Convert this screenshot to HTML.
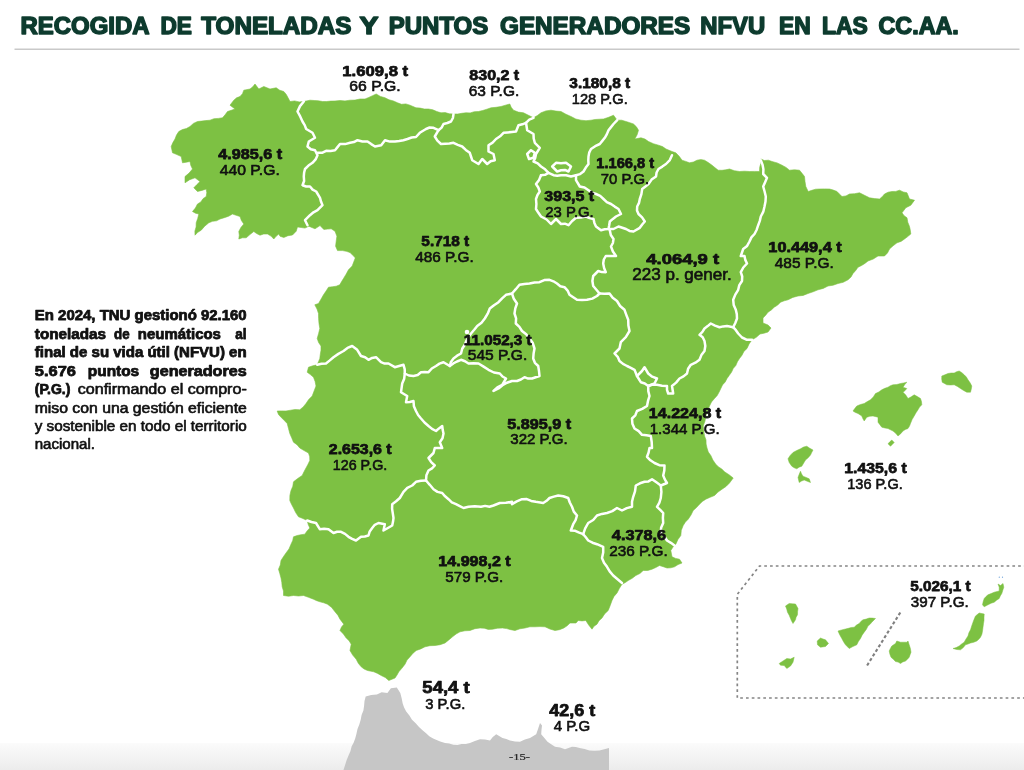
<!DOCTYPE html>
<html lang="es"><head><meta charset="utf-8"><title>Recogida de toneladas y puntos generadores NFVU en las CC.AA.</title>
<style>
html,body{margin:0;padding:0;background:#fff;}
body{width:1024px;height:770px;overflow:hidden;position:relative;font-family:"Liberation Sans",sans-serif;}
svg{position:absolute;left:0;top:0;display:block;}
text{font-family:"Liberation Sans",sans-serif;fill:#111;stroke:#111;stroke-width:0.6px;stroke-linejoin:round;}
.b{font-weight:bold;stroke-width:0.75px;}
.ttl text{font-weight:bold;fill:#0d3b2e;stroke:#0d3b2e;stroke-width:1.5px;}
.pg{font-family:"Liberation Serif",serif;fill:#222;stroke:#222;stroke-width:0.2px;}
</style></head><body>
<svg width="1024" height="770" viewBox="0 0 1024 770">
<defs><linearGradient id="ft" x1="0" y1="0" x2="0" y2="1"><stop offset="0" stop-color="#fbfbfb"/><stop offset="1" stop-color="#ececec"/></linearGradient></defs>
<rect x="0" y="0" width="1024" height="770" fill="#fff"/>
<rect x="0" y="743" width="1024" height="27" fill="url(#ft)"/>
<path d="M343.5,770 L345.1,764.9 L346.7,759.9 L348.75,755 L350.5,751 L351.6,746.6 L353.6,742.7 L355.2,738.6 L356.4,733.9 L357.5,729.1 L359.3,724.5 L360.7,719.8 L361.6,715 L363.4,710.5 L364.1,705.8 L364.5,701 L365.7,696.4 L371.2,695.1 L376.9,694.6 L381.6,692.3 L387.4,692.9 L390.9,688.2 L396.8,687.6 L400.3,692.9 L401.6,698.1 L402.7,703.4 L404.1,707.6 L406.2,711.6 L409.4,715.5 L412,719.8 L415.7,723.2 L419,726.9 L422.5,730.2 L426.1,733.3 L429.3,736.3 L433.1,738.6 L436.6,740.1 L440.2,741.5 L445,743 L449.2,743.6 L453.3,744.8 L457.5,745 L461.6,743.9 L465.9,744 L470,743 L474.9,740.9 L480,739.2 L485,739.5 L490,740.5 L492.8,737.1 L496.2,734.2 L502.5,738 L506.3,739.1 L510,740.5 L515,741.5 L520,741.8 L524.9,739.6 L530,738 L536.2,734.2 L538.2,728.6 L540,723 L542,725.5 L541.5,729.8 L541.2,734.2 L544.4,737.9 L547.5,741.8 L551.2,744.3 L555,746.8 L560.1,747.6 L565,749.2 L572,746.8 L575.8,747 L579.5,748 L584.6,749 L589.5,750.5 L594.5,750.7 L599.5,750.5 L609,748 L609,770Z" fill="#c6c6c6"/>
<path d="M303.8,101.5 L310,100.2 L314.2,100.5 L318.4,100.8 L322.5,101.5 L326.7,101.5 L330.8,101.1 L335,101 L340,100.5 L345,100.9 L350,100.2 L355,100.1 L360,99 L365,99 L368.8,97.4 L372.5,95.7 L376.2,94 L380.4,96.4 L385,97.8 L389,99.8 L393.4,100.9 L397.5,102.8 L401.5,104.3 L405.9,103.9 L410,105.2 L416,107.8 L420.2,108.1 L424.3,109 L428.5,109 L432.8,109.8 L436.8,111.5 L441,112.8 L445.2,112.6 L449.3,113.8 L453.5,114 L457.7,114 L461.8,113.3 L466,112.8 L470.2,112.9 L474.3,111.7 L478.5,111.5 L482.7,110.5 L486.9,109.2 L491,107.8 L496,107.3 L501,106.5 L505.4,105.2 L509.8,104 L511.2,107.3 L513.5,110.2 L518.3,112.1 L523.5,112.8 L528.5,115.3 L533.5,117.8 L537.4,115.5 L541,112.8 L545.8,110.9 L551,110.2 L556,111.1 L561,111.5 L565.9,114.2 L571,116.5 L575.8,119 L581,120.2 L586,120.7 L591,120.2 L595.1,119.5 L599.3,119.2 L603.5,119 L608.6,117.3 L613.5,115.2 L617.2,120.2 L621.7,120.2 L626,121.5 L629.8,122.7 L633.5,124 L636.4,126.8 L638.5,130.2 L637.1,134.8 L634.8,139 L641,137.8 L645,139.1 L648.5,141.5 L653.4,143.7 L658.5,145.2 L662.5,146.6 L666,149 L672,151.5 L675.8,152.8 L679.2,156.3 L682,160.2 L685.8,161.4 L689.5,162.8 L693.4,162 L697,160.2 L700.8,159.6 L704.5,160.2 L708.3,162.6 L712,165.2 L715.1,167.8 L718.2,170.2 L722,170.3 L725.8,169.8 L729.5,169 L734.4,170.7 L739.5,171.5 L744.5,171.2 L749.5,171.5 L754.5,171.4 L759.5,171.5 L759.7,167.3 L760.9,163.2 L760.8,159 L764.4,160.5 L768.4,160.2 L772,161.5 L777.2,162.9 L782,165.2 L786,167.4 L789.5,170.2 L794.5,169.8 L799.5,170.2 L802,173.3 L804.5,176.5 L805,181.5 L805.8,186.5 L808.2,191.5 L811.9,190.3 L815.6,189.2 L819.5,189 L824.5,188.9 L829.5,189 L833.3,190.1 L837,191.5 L839.4,194.1 L842,196.5 L846,195.9 L849.5,194 L854.5,193.7 L859.5,192.8 L864.5,195.3 L869.5,197.8 L874.5,198.6 L879.5,199 L882.2,196.7 L884.5,194 L888.1,192.2 L892,191.5 L895.8,191.4 L899.5,190.2 L903.1,191.9 L907,192.8 L909.5,199 L914.5,200.2 L910.8,205.2 L905.8,207.8 L902,212.8 L904.1,215.7 L907,217.8 L907.8,222.3 L909.5,226.5 L910.3,230.2 L910.8,234 L907.7,236.6 L904.5,239 L901,241.4 L897,242.8 L893.1,245.8 L889.5,249 L887.5,252.9 L884.5,256 L878,256 L873.3,259 L868,261 L864.9,263.4 L861.6,265.5 L858,267.2 L855.7,270.5 L853,273.5 L851,277 L848,279.8 L843.2,282.3 L838,283.5 L833.1,285.2 L828,286 L823.2,288.4 L818,289.8 L813.1,291.8 L808,293.5 L803.2,295.4 L798,296 L792.8,297.4 L788,299.8 L784.2,300.8 L780.5,302.2 L777.7,305.1 L774.2,307.2 L771.3,310 L768,312.2 L765.7,315.2 L763,318 L763,323 L768,325 L771,328 L768,332 L764,333.2 L760,334 L756.3,337.3 L752,339.8 L749.1,343.9 L747,348.5 L743.9,351.4 L742,355.2 L739.5,358.5 L737.4,361.8 L735.8,365.5 L733.2,368.5 L731.6,372.1 L729.3,375.3 L727,378.5 L725.2,382 L722.5,384.9 L720.8,388.5 L719.1,392.1 L717.2,395.5 L714.5,398.5 L711.5,401.9 L709.5,406 L707.6,411 L705.8,416 L705,421.1 L703.2,426 L703.8,431 L704.5,436 L706,439.9 L706.1,444 L707,448 L708.3,452.1 L710.8,455.5 L712.9,460.1 L715.8,464.2 L718.5,466.9 L721.8,469 L724.5,471.8 L729,474.7 L733.2,478 L729.5,483 L726,486.5 L722,489.2 L718,492.1 L714.5,495.5 L710.1,497.3 L705.8,499.2 L702.4,501.4 L699.5,504.2 L696.5,507.5 L693.2,510.5 L691,515 L688.2,519.2 L685.4,522.1 L683.2,525.5 L681.3,530.3 L680.8,535.5 L677.9,539.6 L675.8,544.2 L673,547.1 L670.8,550.5 L672,556.8 L675.6,558.4 L679.5,559.2 L682,563 L678.1,564.6 L674.5,566.8 L670.8,567.8 L667,568 L663.3,566.7 L659.5,565.5 L655.8,567.5 L652,569.2 L647.7,570.5 L643.2,570.5 L639.9,573.5 L635.8,575.5 L632.2,578.3 L628.2,580.5 L625.3,582.6 L622,584.2 L619.3,588.5 L617,593 L614,596.4 L612,600.5 L610.2,605.5 L608.2,610.5 L604.6,613.9 L602,618 L599,620.7 L597,624.2 L594,626.2 L592,629.2 L588.7,625 L585.8,620.5 L582,620.9 L578.2,620.5 L576,623 L570,623 L567.1,625.8 L563.8,628 L559.5,629.7 L555,630.5 L549.9,629 L545,626.8 L540,626.6 L535,626.8 L529.9,626.8 L525,628 L519.9,628.8 L515,630.5 L510.8,629.7 L506.7,628.6 L502.5,628 L497.5,628.2 L492.5,629.2 L488.3,629.4 L484.2,628.2 L480,628 L474.9,628.7 L470,630.5 L464.9,630.8 L460,631.8 L456.1,634 L452.5,636.8 L448.8,639.9 L445,643 L440.1,644.7 L435,645.5 L429.9,645.7 L425,646.8 L420.7,648.9 L416.2,650.5 L412.8,653.4 L410,656.8 L407,660.1 L405,664.2 L402,668.1 L398.8,671.8 L397,675 L395,678 L388.8,680.5 L385.3,677.5 L381.2,675.5 L377.6,673.4 L373.8,671.8 L367.5,670.5 L364.1,669 L361.2,666.8 L358.3,663.3 L356.2,659.2 L352.7,655.1 L350,650.5 L351.2,644.2 L349.1,640.7 L346.2,638 L343.4,634 L340,630.5 L341.5,627.1 L343.8,624.2 L340,619.2 L337.9,615.2 L335,611.8 L331.7,607.5 L327.5,604.2 L323.8,602.8 L320,601.8 L316.7,600.7 L313.5,599.2 L308.5,597.3 L303.5,595.5 L298.5,596 L293.5,595.5 L288.5,596.2 L283.5,595.5 L283.5,591.1 L282.2,586.8 L281.8,582.4 L281,578 L279.8,573.6 L278.5,569.2 L280.3,565 L281,560.5 L283.4,556.7 L286,553 L289,548.9 L291,544.2 L292.7,540.6 L293.5,536.8 L297.2,535.5 L301,534.7 L304.8,534.2 L307.1,530.9 L309.8,528 L308.2,524.4 L307.2,520.5 L302.9,518.5 L298.5,516.8 L295.7,512.6 L293.5,508 L291.5,504.3 L289.8,500.5 L289.9,495.4 L291,490.5 L292.8,486.3 L293.5,481.8 L297.7,478.5 L302.2,475.5 L304,471.7 L306,468 L308,464.3 L309.8,460.5 L309.7,456.7 L308.5,453 L304.1,450.6 L299.8,448 L297,444.7 L293.5,442.2 L291.7,437.8 L289.8,433.5 L288.5,428.5 L287.2,423.5 L284.1,420.3 L281,417.2 L278.5,414.5 L277.2,411 L281.6,410.9 L286,411 L290.6,410.2 L295.1,409.5 L299.8,409.8 L303.2,406.9 L306,403.5 L308.7,399.5 L312.2,396 L314.1,391 L316,386 L315.1,381.5 L313.5,377.2 L310.4,374.6 L307.2,372.2 L308.5,367.2 L312.8,365.8 L317.2,364.8 L318.5,361.7 L319.8,358.5 L320.3,354.3 L321,350.2 L321,346 L318.6,342.5 L317.2,338.5 L318.6,333.5 L319.8,328.5 L319,323.5 L318.6,318.5 L318.5,313.5 L317,309 L314.8,304.8 L318.5,303.5 L321,299.2 L323.5,294.8 L326.1,291 L328.5,287.2 L332.3,286.8 L336.2,286.2 L339.8,284.8 L341.6,281.6 L343.5,278.5 L346.1,274.2 L348.5,269.8 L352.2,266 L354.1,261 L356,256 L356.2,258.8 L353.1,255.6 L350,252.5 L346.3,251.3 L342.5,250.6 L337.5,250.6 L335.6,246.2 L336.2,241.2 L336.9,236.2 L335,231.2 L331.2,228.8 L327.5,229.1 L323.8,229.4 L320,225.6 L315,228.8 L308.8,226.2 L305,228.1 L301.2,227.5 L297.5,226.9 L296.2,231.2 L292.5,235 L288,235.7 L283.8,237.5 L280,236.2 L278.8,234 L276.1,236.3 L273.8,239 L271,236.1 L267.5,234 L263.7,234 L260,235.2 L256.7,233.6 L253.8,231.5 L249.9,234.6 L246.2,237.8 L242.4,237.8 L238.8,239 L239.3,235.2 L238.8,231.5 L240.9,227.5 L243.8,224 L241.4,220.5 L240,216.5 L236.2,215.3 L232.5,214 L228.6,216.2 L224.3,217.7 L220,219 L216.5,220.8 L212.5,221.3 L208.8,222.8 L204.7,226.2 L201.2,230.2 L197.8,232.3 L195,235.2 L194.9,231 L196.1,227 L196.2,222.8 L197.7,218.5 L198.8,214 L195.5,213.2 L192.5,211.5 L195.4,208 L197.5,204 L200.8,202 L203,198.7 L206.2,196.5 L206.8,192.8 L206.2,189 L201.9,190.4 L197.5,191.5 L193.8,187.8 L196.9,184.6 L200,181.5 L195,177.8 L189.7,179.7 L185,182.8 L185,176.5 L189.1,173.1 L192.5,169 L190.8,165.4 L190,161.5 L186.3,162.2 L182.5,162.8 L181.2,156.5 L176.9,154.6 L172.5,152.8 L171.2,146.5 L172.9,142.6 L175,139 L176.5,135.1 L178.8,131.5 L182.4,129.6 L186.4,128.5 L190,126.5 L193.4,123.4 L197.5,121.5 L201.7,121.1 L205.8,120.6 L210,120.2 L214,118.7 L218.3,118.4 L222.5,117.8 L225.1,114.8 L227.5,111.5 L231.3,110.3 L235,109 L230,105.2 L233.8,100.2 L236.6,97.8 L240,96.5 L242.5,93.7 L243.8,90.2 L250,89 L252.8,86.8 L255,84 L258.8,89 L263.8,86.5 L270,89 L276.2,87.8 L279.7,90.2 L283.8,91.5 L286.3,94.5 L288.2,98 L290,101.5 L294.6,100.9 L299.2,101.9Z" fill="#7dc143" stroke="#7dc143" stroke-width="0.6" stroke-linejoin="round"/>
<path d="M853,411 L854.8,408.4 L856.8,406 L860.4,404.5 L864.2,403.5 L867.3,401.6 L870.5,399.8 L873.3,396.9 L875.5,393.5 L878.8,391.9 L881.8,389.8 L884.8,388.3 L888,387.2 L890.4,385.7 L893,384.8 L896.8,384.5 L900.5,383.5 L903.7,382.9 L906.8,382.2 L904.8,384.6 L903,387.2 L906.8,388.5 L905.1,390.6 L903,392.2 L905.8,395.1 L908,398.5 L911.2,396.8 L914.2,394.8 L917.4,396.6 L920.5,398.5 L921.5,401.6 L921.8,404.8 L919.6,407.1 L918,409.8 L916,412.8 L914.2,416 L912.1,419.6 L910.5,423.5 L909.5,426.1 L908,428.5 L905.4,429.5 L903,431 L900.7,433.7 L898,436 L895.7,433.3 L893,431 L890.5,429.8 L888,428.5 L884.9,428 L881.8,427.2 L879.9,424.7 L878,422.2 L878,417.2 L873,416 L869.8,416.3 L866.8,417.2 L864.2,421 L862.8,418.6 L861.8,416 L858,413.5 L855.4,412.5Z" fill="#7dc143" stroke="#7dc143" stroke-width="0.5" stroke-linejoin="round"/>
<path d="M941.8,376 L944.9,374.8 L948,373.5 L951.1,373 L954.2,373 L956.6,371.7 L959.2,371 L961.9,372.7 L964.2,374.8 L966.4,377.1 L968,379.8 L970.1,382.8 L971.8,386 L971.3,389.1 L970.5,392.2 L966.8,392.2 L963.6,390.5 L960.5,388.5 L957.5,386.5 L954.2,384.8 L950.5,385 L946.8,384.8 L944.5,383.5 L942.2,382.2 L941.7,379.1Z" fill="#7dc143" stroke="#7dc143" stroke-width="0.5" stroke-linejoin="round"/>
<path d="M888,443.8 L889.8,441.8 L891.8,440 L894.2,442.5 L890.5,446.2Z" fill="#7dc143" stroke="#7dc143" stroke-width="0.5" stroke-linejoin="round"/>
<path d="M788,458.8 L790.2,455.4 L793,452.5 L796.7,450.5 L800.5,448.8 L803.5,447.1 L806.8,446.2 L809.8,448.3 L813,450 L811.7,452.5 L810.5,455 L808.2,457.7 L805.5,460 L803.7,463.1 L801.8,466.2 L799.1,467.2 L796.8,468.8 L794.2,467.8 L791.8,466.2 L789.2,462.5Z" fill="#7dc143" stroke="#7dc143" stroke-width="0.5" stroke-linejoin="round"/>
<path d="M800.5,471.2 L801.5,473.8 L803,476.2 L806.1,477.4 L809.2,478.8 L810.5,482.5 L807.3,481.3 L804.2,480 L801.6,481 L799.2,482.5 L798,477.5 L799.2,474.3Z" fill="#7dc143" stroke="#7dc143" stroke-width="0.5" stroke-linejoin="round"/>
<path d="M785.5,606 L789.2,603.5 L792.3,603.8 L795.5,604 L798,608.5 L797.6,611.6 L797.5,614.8 L796.1,617.2 L795.5,619.8 L793,623.5 L791.6,621.1 L790.5,618.5 L789.2,615.2 L787.5,612.2 L786.7,609Z" fill="#7dc143" stroke="#7dc143" stroke-width="0.5" stroke-linejoin="round"/>
<path d="M817.2,641 L820.5,638 L823,639 L825.5,639.8 L828.5,643.5 L825.5,646.5 L820.5,647.2 L817.5,644.8Z" fill="#7dc143" stroke="#7dc143" stroke-width="0.5" stroke-linejoin="round"/>
<path d="M779.2,663.5 L783,661 L786.8,658.5 L790.5,659 L794.2,657.2 L793,662.2 L790.5,666 L786.8,668.5 L784.2,665.5 L780.5,665.2Z" fill="#7dc143" stroke="#7dc143" stroke-width="0.5" stroke-linejoin="round"/>
<path d="M838,631 L841.7,629.9 L845.5,629 L848.4,628.3 L851.2,627.5 L854.2,627.2 L856.5,625.1 L859.2,623.5 L860.9,621.4 L863,619.8 L866.2,619.1 L869.2,618 L872.4,618.1 L875.5,618.5 L871.8,622.2 L870.1,624.3 L868,626 L866.4,629.3 L864.2,632.2 L862.1,635.2 L860.5,638.5 L858.4,641.5 L856.8,644.8 L852.9,646.5 L849.2,648.5 L845.5,644.8 L843.5,641.7 L841.8,638.5 L839.7,634.8Z" fill="#7dc143" stroke="#7dc143" stroke-width="0.5" stroke-linejoin="round"/>
<path d="M889.2,651 L890.4,648.4 L891.8,646 L895.5,643.5 L896.8,641 L900.5,642.2 L903.6,642.2 L906.8,642.2 L908,641 L909.2,644.8 L910.4,648.4 L911,652.2 L910.1,654.7 L909.2,657.2 L907.5,659.2 L905.5,661 L902.8,661.9 L900.5,663.5 L898.1,662.1 L895.5,661.5 L893.3,659.3 L891,657.2 L889.9,654.2Z" fill="#7dc143" stroke="#7dc143" stroke-width="0.5" stroke-linejoin="round"/>
<path d="M953,648.5 L956.2,647.6 L959.2,646 L961.6,644 L964.2,642.2 L966,639 L968,636 L968.9,632.8 L970.5,629.8 L971.7,626 L973,622.2 L974.2,619.1 L975.5,616 L979.2,613 L984.2,614 L984,617.2 L984,620.4 L983.5,623.5 L983,627.2 L982.5,631 L981.9,634.2 L980.5,637.2 L978.8,639.2 L976.8,641 L973.7,642.3 L970.5,643 L968,644 L965.5,644.8 L963.3,647.6 L960.5,649.8 L956.7,649.5Z" fill="#7dc143" stroke="#7dc143" stroke-width="0.5" stroke-linejoin="round"/>
<path d="M982.5,604.8 L983.2,601.6 L984.2,598.5 L986,596.5 L988,594.8 L991.1,593.6 L994.2,592.2 L999.2,591 L999.2,587.2 L998,584 L1000.5,585.5 L1003,583.5 L1003.8,587.2 L1002.8,590.3 L1001.8,593.5 L1000.3,595.9 L999.2,598.5 L996.6,600.2 L994.2,602.2 L991,603.3 L988,604.8 L984.2,606.8Z" fill="#7dc143" stroke="#7dc143" stroke-width="0.5" stroke-linejoin="round"/>
<g fill="none" stroke="#fff" stroke-width="2.5" stroke-linejoin="round" stroke-linecap="round">
<path d="M303.8,101.5 L300,106.1 L297.5,111.5 L300.2,116.4 L302.5,121.5 L304.7,125.1 L306.2,129 L312.5,132.8 L315,137.8 L308.8,141.5 L307.5,146.5 L310.8,149.2 L315,150.2 L317.5,155.2 L315.6,159.4 L312.5,162.8 L308.5,165.6 L305,169 L304.1,172.7 L303.8,176.5 L304.1,181 L302.5,185.2 L306.1,186.5 L310,186.5 L312.6,189.6 L316.2,191.5 L320,197.8 L321,201.6 L322.5,205.2 L317.5,210.2 L313.5,212.3 L310,215.2 L305,220.2 L307.5,225.2"/>
<path d="M317.5,152.8 L322,152.8 L326.1,150.8 L330.6,150.9 L335,150.2 L337.5,147.1 L340,144 L345.1,144.1 L350,142.8 L353.9,142.1 L357.5,140.2 L362.4,141.5 L367.5,141.5 L371.2,144.1 L375,146.5 L381.2,145.2 L385,140.2 L389.9,141.6 L395,141.5 L399.2,141 L403.4,140.2 L407.5,139 L411.6,137.5 L416,137 L419.8,132.8 L426,129 L429.6,127.5 L433.5,127.8 L438.5,130.2"/>
<path d="M453.5,114 L452.9,118 L451,121.5 L447.3,123 L443.5,124 L441.6,127.6 L438.5,130.2"/>
<path d="M438.5,130.2 L434.8,136.5 L437.4,140.7 L441,144 L445.2,143.7 L449.4,143.5 L453.5,142.8 L457.8,144.9 L462.2,146.5 L465.8,149.9 L469.8,152.8 L471,156.5 L472.2,160.2 L478.5,164 L482.2,159 L487.2,164 L490.6,161.2 L494.8,160.2 L493.5,154 L488.5,151.5 L488.5,145.2 L492.6,142.6 L496,139 L500.1,136.3 L503.5,132.8 L507.7,132.4 L511.8,132 L516,131.5 L518.5,125.2 L522.3,124.3 L526,122.8 L529.3,119.6 L533.5,117.8"/>
<path d="M526,122.8 L527.2,130.2 L533.5,134 L533.7,138.5 L534.8,142.8 L539.8,147.8 L536,154 L535.2,157.9 L533.5,161.5 L537.7,163.3 L541,166.5 L545.1,169.3 L548.5,172.8 L553.5,175.2 L557.2,175.7 L561,175.2 L566.1,175.3 L571,176.5 L576,175.2"/>
<path d="M552.2,166.5 L556,162.8 L561,163.3 L566,162.8 L571,166.5 L568.5,171.5 L564.9,169.9 L561,170.2 L557.2,171.5 L552.2,166.5"/>
<path d="M527.2,154 L531,150.2 L534.8,152.8 L533.5,157.8 L529,159 L527.2,154"/>
<path d="M617.2,120.2 L613.5,124 L611,127.1 L608.5,130.2 L606.9,134.1 L604.8,137.8 L602.3,140.9 L599.8,144 L595.2,146.2 L591,149 L589.2,152.6 L588.5,156.5 L588.3,160.2 L588.5,164 L585.8,167.6 L583.5,171.5 L580.1,174.1 L576,175.2"/>
<path d="M541,175.2 L539.1,179.9 L536,184 L538.3,187.5 L539.8,191.5 L537.5,195 L536,199 L536.4,204 L536,209 L538.4,212.8 L541,216.5 L546.6,219.5 L551,224 L556,219 L561,224 L564.9,223.7 L568.5,225.2 L571.9,221.2 L576,217.8 L581,217.5 L586,216.5 L589.6,218.1 L593.5,219 L594.4,222.9 L596,226.5 L601,230.2 L604.7,229.2 L608.5,229 L609.2,225.3 L609.8,221.5 L612.9,218.9 L616,216.5 L621,214 L618.5,209 L614.7,206.6 L611,204 L606.8,202.1 L603.5,199 L600.2,195.8 L596,194 L592,192.6 L588.5,190.2 L584.5,187.5 L579.8,186.5 L576,180.2 L576,175.2"/>
<path d="M541,175.2 L545,174.8 L548.5,172.8"/>
<path d="M672,155.2 L669.8,160.1 L666,164 L662.3,166.6 L658.5,169 L656.6,172.5 L656,176.5 L651.6,179.6 L648.5,184 L645.4,186.6 L642.2,189 L641.4,194.1 L639.8,199 L639,202.9 L637.2,206.5 L637,210.4 L638.5,214 L642.1,217.4 L644.8,221.5 L642.2,224.5 L639.8,227.8 L633.5,231.5 L629.5,230.9 L626,229 L622.3,227.7 L618.5,226.5 L613.5,229 L608.5,229"/>
<path d="M609.8,230.2 L610.8,235 L613.5,239 L612.9,243 L611,246.5 L612.9,251.5 L616,256 L610.9,256 L605.8,256 L603.8,259.5 L603.2,263.5 L604.1,268 L605.8,272.2 L601.9,272.1 L598.2,271 L593.2,276 L592.4,281 L593.2,286 L596.4,289.7 L599.5,293.5"/>
<path d="M760.8,160.2 L762.5,164.6 L763.4,169.2 L763.2,174 L767,177.8 L765.1,182.2 L763.2,186.5 L764.6,191.5 L765.8,196.5 L765.5,201.6 L764.5,206.5 L763.3,211.7 L760.8,216.5 L759.8,220.9 L758.2,225.2 L756.7,229.7 L754.5,234 L751.4,237.4 L749.5,241.5 L747.1,245.9 L743.2,249 L740.8,256 L744.5,256 L745.3,259.9 L747,263.5 L743.3,267.5 L740.8,272.2 L742.2,276.5 L742,281 L739.3,285.1 L738.2,289.8 L735.3,294.6 L733.2,299.8 L733.7,305 L735.8,309.8 L736.8,314.1 L737,318.5 L735.3,323 L733.2,327.2"/>
<path d="M733.2,327.2 L735.9,330.2 L738.2,333.5 L742,337.5 L747,339.8 L752,339.8"/>
<path d="M733.2,327.2 L727,326 L723.2,326.4 L719.5,327.2 L715,325.6 L710.8,323.5 L707.7,326.1 L704.5,328.5 L702.4,331.9 L699.5,334.8 L702.7,337.3 L704.5,341 L705.3,346 L704.5,351 L701.4,355.1 L699.5,359.8 L695.4,362.7 L690.8,364.8 L688.1,368.8 L687,373.5 L683.5,376.4 L679.5,378.5 L676.1,382.6 L672,386 L672.6,389.8 L673.2,393.5 L668.2,393.5 L667,389.8 L667,386 L662,385.7 L657,384.8 L652.5,384.5 L648.2,386"/>
<path d="M637,376 L642,371 L644.5,367.2 L648.2,373.5 L652.2,376.7 L657,378.5 L654.5,383.5 L648.2,386 L644.8,383.5 L640.8,382.2 L637,376"/>
<path d="M599.5,293.5 L604.5,293.8 L609.5,293.5 L612.7,297.8 L617,301 L620.1,306 L624.5,309.8 L626.3,314.8 L628.2,319.8 L628.4,325.5 L629.5,331 L625.8,337.2 L620.8,342.2 L619.5,348.5 L614.5,353.5 L617.7,356.8 L619.5,361 L623,363.9 L627,366 L630.8,367.8 L634.5,369.8 L637,376"/>
<path d="M648.2,386 L648.3,391.1 L649.5,396 L648,400.9 L647,406 L642.2,408.9 L637,411 L635.3,415.3 L632,418.5 L632.4,423.7 L634.5,428.5 L638.7,431.1 L642,434.8 L646.4,435.3 L650.8,436 L651.7,442 L652,448 L649.5,448 L648.6,452.5 L647,456.8 L650.4,460.3 L654.5,463 L659.3,465.2 L664.5,465.5 L664.3,470.6 L663.2,475.5 L664.8,479.4 L667,483 L660.8,485.5"/>
<path d="M317.2,364.8 L321.5,363.8 L326,363.5 L329.8,360.4 L333.5,357.2 L338.4,353.9 L343.5,351 L347.5,347.9 L352.2,346 L357.2,349.8 L361,356 L365.1,357.3 L368.5,359.8 L372.1,357.9 L376,357.2 L381,362.2 L384.6,363.6 L388.5,363.5 L394.8,367.2 L399.1,366 L403.5,364.8 L404.7,369.1 L404.8,373.5 L408.9,375.5 L413.5,376 L417.7,375 L421,372.2 L424.8,372.1 L428.5,372.2 L431.8,368.5 L436,366 L439.5,363.6 L443.5,362.2 L449.8,366 L450.9,361.9 L453.5,358.5 L457.1,355.7 L461,353.5 L462.2,348.8 L464.8,344.8 L466.4,340.8 L468.5,337 L471,333.5 L474.2,329.8 L477.2,326 L481.5,322.8 L484.8,318.5 L487.7,313.7 L489.8,308.5 L494,305.2 L498.5,302.2 L502.1,298.4 L506,294.8 L512,293.5 L515.8,289.2 L519.5,284.8 L524.5,283.9 L529.5,283.5 L534.5,282.5 L539.5,282.2 L544.3,280.1 L549.5,279.8 L553.4,281.3 L557,283.5 L560.3,286.2 L564.5,287.2 L567.6,290.6 L569.5,294.8 L573.2,297.3 L577,299.8 L582,300.1 L587,299.8 L592.3,298.6 L597,296 L599.5,293.5"/>
<path d="M449.8,366 L453.3,363.4 L457,361.5 L461,359.8 L465,361.2 L468.5,363.5 L473.5,363.3 L478.5,363.5 L483.6,366.6 L488.5,369.8 L493.9,372.5 L499.8,373.5 L502.5,376.5 L506,378.5 L502.2,384.8 L497.4,387.3 L493.5,391 L498.5,388.5 L502.5,385.2 L507,382.7 L512,381 L517,381 L520.9,379.5 L524.5,377.2 L528.1,378.6 L532,378.5 L535.7,377.2 L539.5,376 L539,371 L538.2,366 L534.9,362.8 L533.2,358.5 L533.6,353.5 L534.5,348.5 L532.8,343.1 L529.5,338.5 L526.2,334.3 L522,331 L519.4,326.8 L515.8,323.5 L516.1,318.4 L514.5,313.5 L515.3,308.4 L517,303.5 L513.8,298.8 L512,293.5"/>
<path d="M404.8,373.5 L404.2,378.7 L402.2,383.5 L401.6,387.8 L401,392.2 L407.2,396 L406,402.2 L409.8,402 L413.5,401 L413.9,406.2 L416,411 L418.1,415 L421,418.5 L424.5,422.5 L428.5,426 L432,428.9 L436,431 L439,428.4 L442.2,426 L442.7,429.8 L443.5,433.5 L442.5,438.2 L439.8,442.2 L442.2,448 L434.8,448 L433.5,453 L428.5,458 L431.2,462.1 L434.8,465.5 L432,468.4 L428.5,470.5 L426.4,475.3 L426,480.5"/>
<path d="M307.2,520.5 L311.5,522 L316,523 L319.8,529.2 L324.1,528.8 L328.5,529.2 L333.5,533 L337.1,531.7 L341,531.8 L345,533.9 L348.5,536.8 L352.1,538.9 L356,540.5 L361,536.8 L364.8,536.5 L368.5,535.5 L369.7,531.4 L372.2,528 L374.8,524.8 L378.5,523 L384.8,524.2 L383.5,530.5 L387.9,528 L392.2,525.5 L393,521.8 L393.5,518 L392.8,513.4 L392.1,508.9 L392.2,504.2 L396.1,501.3 L399.8,498 L403.5,491.8 L407.3,487.9 L412.2,485.5 L416,481.8 L420.9,480.8 L426,480.5"/>
<path d="M426,480.5 L429.8,484.8 L433.5,489.2 L437.5,491.9 L442.2,493 L445.1,496.3 L448.5,499.2 L451.8,502.3 L456,504.2 L459.8,506.1 L463.5,508 L468.5,506.8 L474.8,506.3 L481,506.8 L485.1,505.9 L489.4,506.8 L493.5,505.5 L499.8,503 L505.9,502.8 L512,501.8 L512,504.2 L516.8,501.4 L522,499.2 L526.8,499.1 L531.2,500.9 L535.8,501.8 L543.2,503 L546.6,500.8 L549.5,498 L553.8,496.6 L558.2,495.5 L563.3,496.3 L568.2,498 L569.8,502.5 L572,506.8 L573.8,511.6 L577,515.5 L575.6,520.1 L573.2,524.2 L570.8,530.5 L575.2,530.8 L579.2,532.7 L583.2,534.2"/>
<path d="M583.2,534.2 L585.8,537.3 L588.2,540.5 L592.5,542.7 L597,544.2 L603.2,546.8 L603.2,552.5 L602,558 L604,562.7 L607,566.8 L609.7,571.4 L613.2,575.5 L617.6,579.3 L622,583"/>
<path d="M583.2,534.2 L585.2,528.4 L588.2,523 L593.2,520 L597,515.5 L601.9,513.9 L607,513 L612.3,511.1 L617,508 L622,510.5 L626.8,508.1 L632,506.8 L632,501.7 L633.2,496.8 L635,491.3 L635.8,485.5 L640,483.3 L644.5,481.8 L648.5,481.4 L652,479.2 L656.4,482.3 L660.8,485.5"/>
<path d="M660.8,485.5 L661.4,491.8 L660.8,498 L659.4,502.6 L657,506.8 L660.2,509.8 L663.2,513 L662.9,518 L663.2,523 L661.1,527.8 L660.8,533 L664.4,536.3 L667,540.5 L670.9,542.8 L674.5,545.5"/>
</g>
<circle cx="467" cy="332" r="2.3" fill="#fff"/>
<circle cx="999.3" cy="577.2" r="0.6" fill="#6aa0d8"/><circle cx="1002.5" cy="577.2" r="0.6" fill="#6aa0d8"/>
<path d="M1026.6,566 L759.5,566 L737.3,594.3 L737.3,698 L1024,698" fill="none" stroke="#858585" stroke-width="1.7" stroke-dasharray="2.7 3.07"/>
<path d="M900.3,612.5 L867,665.6" fill="none" stroke="#808080" stroke-width="2.1" stroke-dasharray="3.1 2.3"/>
<line x1="14.5" y1="49.3" x2="1019.5" y2="49.3" stroke="#c9c9c9" stroke-width="1.5"/>
<g class="ttl" font-size="23.6"><text x="20.5" y="34" textLength="129" lengthAdjust="spacingAndGlyphs">RECOGIDA</text><text x="160.5" y="34" textLength="31.5" lengthAdjust="spacingAndGlyphs">DE</text><text x="201.25" y="34" textLength="150.25" lengthAdjust="spacingAndGlyphs">TONELADAS</text><text x="359.5" y="34" textLength="19" lengthAdjust="spacingAndGlyphs">Y</text><text x="388.75" y="34" textLength="99.5" lengthAdjust="spacingAndGlyphs">PUNTOS</text><text x="500" y="34" textLength="190.25" lengthAdjust="spacingAndGlyphs">GENERADORES</text><text x="700.3" y="34" textLength="65" lengthAdjust="spacingAndGlyphs">NFVU</text><text x="779.1" y="34" textLength="31.7" lengthAdjust="spacingAndGlyphs">EN</text><text x="822.1" y="34" textLength="45.7" lengthAdjust="spacingAndGlyphs">LAS</text><text x="878.5" y="34" textLength="80.3" lengthAdjust="spacingAndGlyphs">CC.AA.</text></g>
<text class="b" x="342.35" y="75.7" font-size="14.6" textLength="65.8" lengthAdjust="spacingAndGlyphs">1.609,8 t</text>
<text x="349.25" y="90.7" font-size="14.6" textLength="51.5" lengthAdjust="spacingAndGlyphs">66 P.G.</text>
<text class="b" x="469.35" y="80.2" font-size="14.6" textLength="49.8" lengthAdjust="spacingAndGlyphs">830,2 t</text>
<text x="468.75" y="96.2" font-size="14.6" textLength="50.5" lengthAdjust="spacingAndGlyphs">63 P.G.</text>
<text class="b" x="569.35" y="88.2" font-size="14.6" textLength="60.8" lengthAdjust="spacingAndGlyphs">3.180,8 t</text>
<text x="571.75" y="103.7" font-size="14.6" textLength="56" lengthAdjust="spacingAndGlyphs">128 P.G.</text>
<text class="b" x="218.35" y="159.45" font-size="14.6" textLength="63.8" lengthAdjust="spacingAndGlyphs">4.985,6 t</text>
<text x="219.75" y="175.45" font-size="14.6" textLength="60" lengthAdjust="spacingAndGlyphs">440 P.G.</text>
<text class="b" x="596.35" y="168.2" font-size="14.6" textLength="57.8" lengthAdjust="spacingAndGlyphs">1.166,8 t</text>
<text x="600.75" y="183.7" font-size="14.6" textLength="48.5" lengthAdjust="spacingAndGlyphs">70 P.G.</text>
<text class="b" x="544.35" y="201.2" font-size="14.6" textLength="49.8" lengthAdjust="spacingAndGlyphs">393,5 t</text>
<text x="545.25" y="216.7" font-size="14.6" textLength="48.5" lengthAdjust="spacingAndGlyphs">23 P.G.</text>
<text class="b" x="421.35" y="245.7" font-size="14.6" textLength="47.8" lengthAdjust="spacingAndGlyphs">5.718 t</text>
<text x="415.25" y="261.7" font-size="14.6" textLength="58.5" lengthAdjust="spacingAndGlyphs">486 P.G.</text>
<text class="b" x="768.35" y="252.45" font-size="14.6" textLength="73.3" lengthAdjust="spacingAndGlyphs">10.449,4 t</text>
<text x="774.75" y="268.2" font-size="14.6" textLength="59" lengthAdjust="spacingAndGlyphs">485 P.G.</text>
<text class="b" x="646.35" y="264.45" font-size="14.6" textLength="72.8" lengthAdjust="spacingAndGlyphs">4.064,9 t</text>
<text x="632.25" y="279.95" font-size="15.6" textLength="99.5" lengthAdjust="spacingAndGlyphs">223 p. gener.</text>
<text class="b" x="463.85" y="344.7" font-size="14.6" textLength="67.8" lengthAdjust="spacingAndGlyphs">11.052,3 t</text>
<text x="467.75" y="360.2" font-size="14.6" textLength="59.5" lengthAdjust="spacingAndGlyphs">545 P.G.</text>
<text class="b" x="507.35" y="429.45" font-size="14.6" textLength="63.8" lengthAdjust="spacingAndGlyphs">5.895,9 t</text>
<text x="510.25" y="444.45" font-size="14.6" textLength="57.5" lengthAdjust="spacingAndGlyphs">322 P.G.</text>
<text class="b" x="648.85" y="418.2" font-size="14.6" textLength="72.3" lengthAdjust="spacingAndGlyphs">14.224,8 t</text>
<text x="649.75" y="434.45" font-size="14.6" textLength="70" lengthAdjust="spacingAndGlyphs">1.344 P.G.</text>
<text class="b" x="328.85" y="453.95" font-size="14.6" textLength="62.8" lengthAdjust="spacingAndGlyphs">2.653,6 t</text>
<text x="332.75" y="470.2" font-size="14.6" textLength="54.5" lengthAdjust="spacingAndGlyphs">126 P.G.</text>
<text class="b" x="844.35" y="472.7" font-size="14.6" textLength="62.3" lengthAdjust="spacingAndGlyphs">1.435,6 t</text>
<text x="847.25" y="488.7" font-size="14.6" textLength="55.5" lengthAdjust="spacingAndGlyphs">136 P.G.</text>
<text class="b" x="611.85" y="539.7" font-size="14.6" textLength="54.3" lengthAdjust="spacingAndGlyphs">4.378,6</text>
<text x="609.25" y="555.7" font-size="14.6" textLength="58.5" lengthAdjust="spacingAndGlyphs">236 P.G.</text>
<text class="b" x="438.35" y="566.45" font-size="14.6" textLength="72.3" lengthAdjust="spacingAndGlyphs">14.998,2 t</text>
<text x="445.25" y="581.95" font-size="14.6" textLength="58" lengthAdjust="spacingAndGlyphs">579 P.G.</text>
<text class="b" x="910.35" y="591.2" font-size="14.6" textLength="60.3" lengthAdjust="spacingAndGlyphs">5.026,1 t</text>
<text x="910.75" y="606.95" font-size="14.6" textLength="58" lengthAdjust="spacingAndGlyphs">397 P.G.</text>
<text class="b" x="422.35" y="693.2" font-size="16" textLength="47.3" lengthAdjust="spacingAndGlyphs">54,4 t</text>
<text x="425.25" y="708.95" font-size="14.6" textLength="40" lengthAdjust="spacingAndGlyphs">3 P.G.</text>
<text class="b" x="549.35" y="715.95" font-size="16" textLength="45.8" lengthAdjust="spacingAndGlyphs">42,6 t</text>
<text x="553.75" y="730.95" font-size="14.6" textLength="36.5" lengthAdjust="spacingAndGlyphs">4 P.G</text>
<text class="b" x="34.85" y="320" font-size="13.8" textLength="211.8" lengthAdjust="spacingAndGlyphs">En 2024, TNU gestionó 92.160</text>
<text class="b" x="34.85" y="338.75" font-size="13.8" textLength="71.05" lengthAdjust="spacingAndGlyphs">toneladas</text><text class="b" x="114.1" y="338.75" font-size="13.8" textLength="15.55" lengthAdjust="spacingAndGlyphs">de</text><text class="b" x="137.85" y="338.75" font-size="13.8" textLength="83.05" lengthAdjust="spacingAndGlyphs">neumáticos</text><text class="b" x="235.35" y="338.75" font-size="13.8" textLength="11.3" lengthAdjust="spacingAndGlyphs">al</text>
<text class="b" x="34.85" y="357" font-size="13.8" textLength="211.8" lengthAdjust="spacingAndGlyphs">final de su vida útil (NFVU) en</text>
<text class="b" x="34.85" y="375.5" font-size="13.8" textLength="41.05" lengthAdjust="spacingAndGlyphs">5.676</text><text class="b" x="87.85" y="375.5" font-size="13.8" textLength="51.3" lengthAdjust="spacingAndGlyphs">puntos</text><text class="b" x="149.85" y="375.5" font-size="13.8" textLength="96.8" lengthAdjust="spacingAndGlyphs">generadores</text>
<text class="b" x="34.85" y="393.75" font-size="13.8" textLength="35.55" lengthAdjust="spacingAndGlyphs">(P.G.)</text><text x="77.7" y="393.75" font-size="13.8" textLength="169.1" lengthAdjust="spacingAndGlyphs">confirmando el compro-</text>
<text x="34.7" y="412.5" font-size="13.8" textLength="212.1" lengthAdjust="spacingAndGlyphs">miso con una gestión eficiente</text>
<text x="34.7" y="430.5" font-size="13.8" textLength="212.1" lengthAdjust="spacingAndGlyphs">y sostenible en todo el territorio</text>
<text x="34.7" y="448.75" font-size="13.8" textLength="60.35" lengthAdjust="spacingAndGlyphs">nacional.</text>
<text class="pg" x="509" y="760" font-size="9" textLength="21" lengthAdjust="spacingAndGlyphs">-15-</text>
</svg>
</body></html>
